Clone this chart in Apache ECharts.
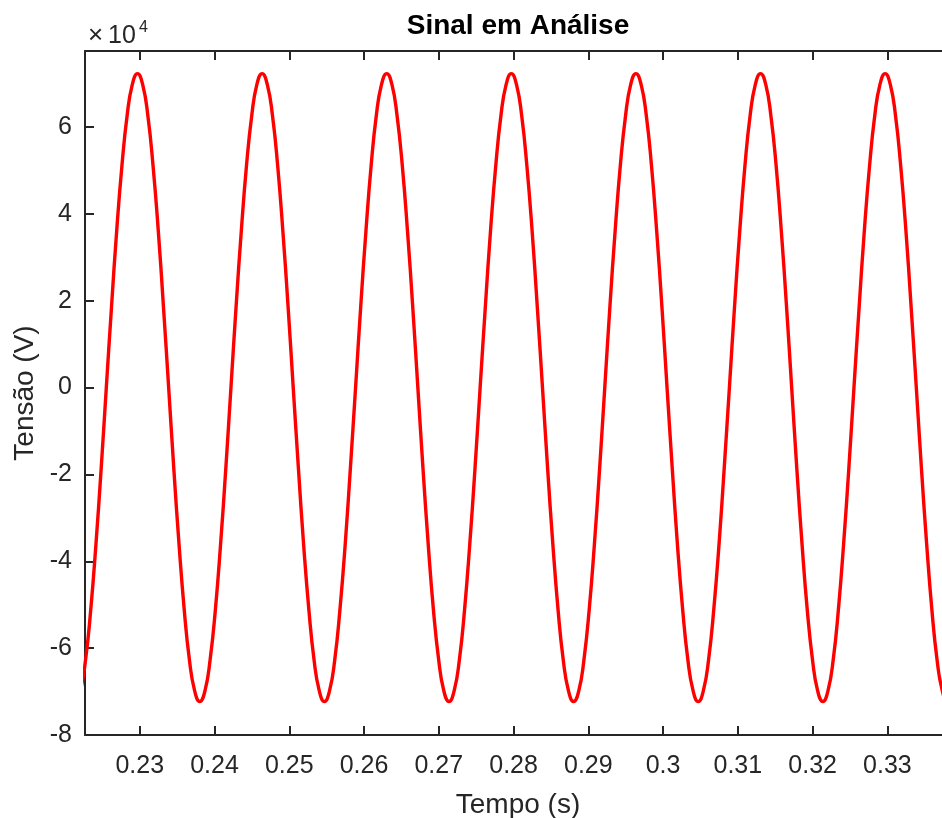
<!DOCTYPE html>
<html>
<head>
<meta charset="utf-8">
<title>Sinal em Análise</title>
<script src="https://cdn.jsdelivr.net/npm/echarts@6/dist/echarts.min.js"></script>
<style>
  html, body { margin: 0; padding: 0; background: #ffffff; }
  #chart { width: 942px; height: 818px; }
</style>
</head>
<body>
<div id="chart"></div>
<script>
// Time samples (s) of the measured waveform
var timeS = [
  0.22137, 0.22206, 0.22276, 0.22345, 0.22414, 0.22484, 0.22553, 0.22623, 0.22692, 0.22762, 0.22831, 0.22901,
  0.22970, 0.23039, 0.23109, 0.23178, 0.23248, 0.23317, 0.23387, 0.23456, 0.23526, 0.23595, 0.23664, 0.23734,
  0.23803, 0.23873, 0.23942, 0.24012, 0.24081, 0.24151, 0.24220, 0.24289, 0.24359, 0.24428, 0.24498, 0.24567,
  0.24637, 0.24706, 0.24776, 0.24845, 0.24914, 0.24984, 0.25053, 0.25123, 0.25192, 0.25262, 0.25331, 0.25401,
  0.25470, 0.25539, 0.25609, 0.25678, 0.25748, 0.25817, 0.25887, 0.25956, 0.26026, 0.26095, 0.26164, 0.26234,
  0.26303, 0.26373, 0.26442, 0.26512, 0.26581, 0.26651, 0.26720, 0.26789, 0.26859, 0.26928, 0.26998, 0.27067,
  0.27137, 0.27206, 0.27276, 0.27345, 0.27414, 0.27484, 0.27553, 0.27623, 0.27692, 0.27762, 0.27831, 0.27901,
  0.27970, 0.28039, 0.28109, 0.28178, 0.28248, 0.28317, 0.28387, 0.28456, 0.28526, 0.28595, 0.28664, 0.28734,
  0.28803, 0.28873, 0.28942, 0.29012, 0.29081, 0.29151, 0.29220, 0.29289, 0.29359, 0.29428, 0.29498, 0.29567,
  0.29637, 0.29706, 0.29776, 0.29845, 0.29914, 0.29984, 0.30053, 0.30123, 0.30192, 0.30262, 0.30331, 0.30401,
  0.30470, 0.30539, 0.30609, 0.30678, 0.30748, 0.30817, 0.30887, 0.30956, 0.31026, 0.31095, 0.31164, 0.31234,
  0.31303, 0.31373, 0.31442, 0.31512, 0.31581, 0.31651, 0.31720, 0.31789, 0.31859, 0.31928, 0.31998, 0.32067,
  0.32137, 0.32206, 0.32276, 0.32345, 0.32414, 0.32484, 0.32553, 0.32623, 0.32692, 0.32762, 0.32831, 0.32901,
  0.32970, 0.33039, 0.33109, 0.33178, 0.33248, 0.33317, 0.33387, 0.33456, 0.33526, 0.33595, 0.33664, 0.33734,
  0.33803, 0.33873
];

// Voltage (V) at each time sample
var voltageV = [
  -72300, -69800, -62600, -51100, -36150, -18700, 0, 18700, 36150, 51100, 62600, 69800,
  72300, 69800, 62600, 51100, 36150, 18700, 0, -18700, -36150, -51100, -62600, -69800,
  -72300, -69800, -62600, -51100, -36150, -18700, 0, 18700, 36150, 51100, 62600, 69800,
  72300, 69800, 62600, 51100, 36150, 18700, 0, -18700, -36150, -51100, -62600, -69800,
  -72300, -69800, -62600, -51100, -36150, -18700, 0, 18700, 36150, 51100, 62600, 69800,
  72300, 69800, 62600, 51100, 36150, 18700, 0, -18700, -36150, -51100, -62600, -69800,
  -72300, -69800, -62600, -51100, -36150, -18700, 0, 18700, 36150, 51100, 62600, 69800,
  72300, 69800, 62600, 51100, 36150, 18700, 0, -18700, -36150, -51100, -62600, -69800,
  -72300, -69800, -62600, -51100, -36150, -18700, 0, 18700, 36150, 51100, 62600, 69800,
  72300, 69800, 62600, 51100, 36150, 18700, 0, -18700, -36150, -51100, -62600, -69800,
  -72300, -69800, -62600, -51100, -36150, -18700, 0, 18700, 36150, 51100, 62600, 69800,
  72300, 69800, 62600, 51100, 36150, 18700, 0, -18700, -36150, -51100, -62600, -69800,
  -72300, -69800, -62600, -51100, -36150, -18700, 0, 18700, 36150, 51100, 62600, 69800,
  72300, 69800, 62600, 51100, 36150, 18700, 0, -18700, -36150, -51100, -62600, -69800,
  -72300, -69800
];

// Axis tick positions
var timeTicks = [0.23, 0.24, 0.25, 0.26, 0.27, 0.28, 0.29, 0.30, 0.31, 0.32, 0.33];
var voltageTicks = [-80000, -60000, -40000, -20000, 0, 20000, 40000, 60000];

var points = timeS.map(function (t, i) { return [t, voltageV[i]]; });

var FONT = '"Liberation Sans", Arial, Helvetica, sans-serif';
var INK = '#262626';

var axisLineStyle = { color: INK, width: 2 };
var tickStyle = { color: INK, width: 2 };

var chart = echarts.init(document.getElementById('chart'), null, { renderer: 'canvas' });

chart.setOption({
  animation: false,
  backgroundColor: '#ffffff',
  grid: {
    left: 85, top: 51, width: 866, height: 684,
    containLabel: false,
    outerBoundsMode: 'none'
  },
  xAxis: [
    {
      type: 'value',
      position: 'bottom',
      min: 0.22268,
      max: 0.33851,
      name: 'Tempo (s)',
      nameLocation: 'middle',
      nameGap: 56,
      nameTextStyle: { fontFamily: FONT, fontSize: 28, color: INK },
      axisLine: { show: true, onZero: false, lineStyle: axisLineStyle },
      axisTick: { show: true, inside: true, length: 9, customValues: timeTicks, lineStyle: tickStyle },
      axisLabel: {
        show: true, margin: 19, customValues: timeTicks,
        fontFamily: FONT, fontSize: 25, color: INK,
        formatter: function (v) { return String(+v.toFixed(2)); }
      },
      splitLine: { show: false }
    },
    {
      type: 'value',
      position: 'top',
      min: 0.22268,
      max: 0.33851,
      axisLine: { show: true, onZero: false, lineStyle: axisLineStyle },
      axisTick: { show: true, inside: true, length: 9, customValues: timeTicks, lineStyle: tickStyle },
      axisLabel: { show: false },
      splitLine: { show: false }
    }
  ],
  yAxis: {
    type: 'value',
    min: -80000,
    max: 77500,
    name: 'Tensão (V)',
    nameLocation: 'middle',
    nameGap: 46,
    nameTextStyle: { fontFamily: FONT, fontSize: 28, color: INK },
    axisLine: { show: true, onZero: false, lineStyle: axisLineStyle },
    axisTick: { show: true, inside: true, length: 9, customValues: voltageTicks, lineStyle: tickStyle },
    axisLabel: {
      show: true, margin: 13, customValues: voltageTicks,
      fontFamily: FONT, fontSize: 25, color: INK,
      formatter: function (v) { return String(Math.round(v / 10000)); }
    },
    splitLine: { show: false }
  },
  graphic: [
    {
      type: 'text',
      style: {
        text: 'Sinal em Análise', x: 518, y: 26,
        align: 'center', verticalAlign: 'middle',
        font: 'bold 28px ' + FONT, fill: '#000000'
      }
    },
    {
      type: 'text',
      style: {
        text: '×', x: 88, y: 36,
        align: 'left', verticalAlign: 'middle',
        font: '26px ' + FONT, fill: INK
      }
    },
    {
      type: 'text',
      style: {
        text: '10', x: 108, y: 36,
        align: 'left', verticalAlign: 'middle',
        font: '25px ' + FONT, fill: INK
      }
    },
    {
      type: 'text',
      style: {
        text: '4', x: 139, y: 28,
        align: 'left', verticalAlign: 'middle',
        font: '16px ' + FONT, fill: INK
      }
    }
  ],
  series: [
    {
      type: 'line',
      xAxisIndex: 0,
      data: points,
      smooth: true,
      showSymbol: false,
      clip: true,
      lineStyle: { color: '#ff0000', width: 3.4 }
    }
  ]
});
</script>
</body>
</html>
